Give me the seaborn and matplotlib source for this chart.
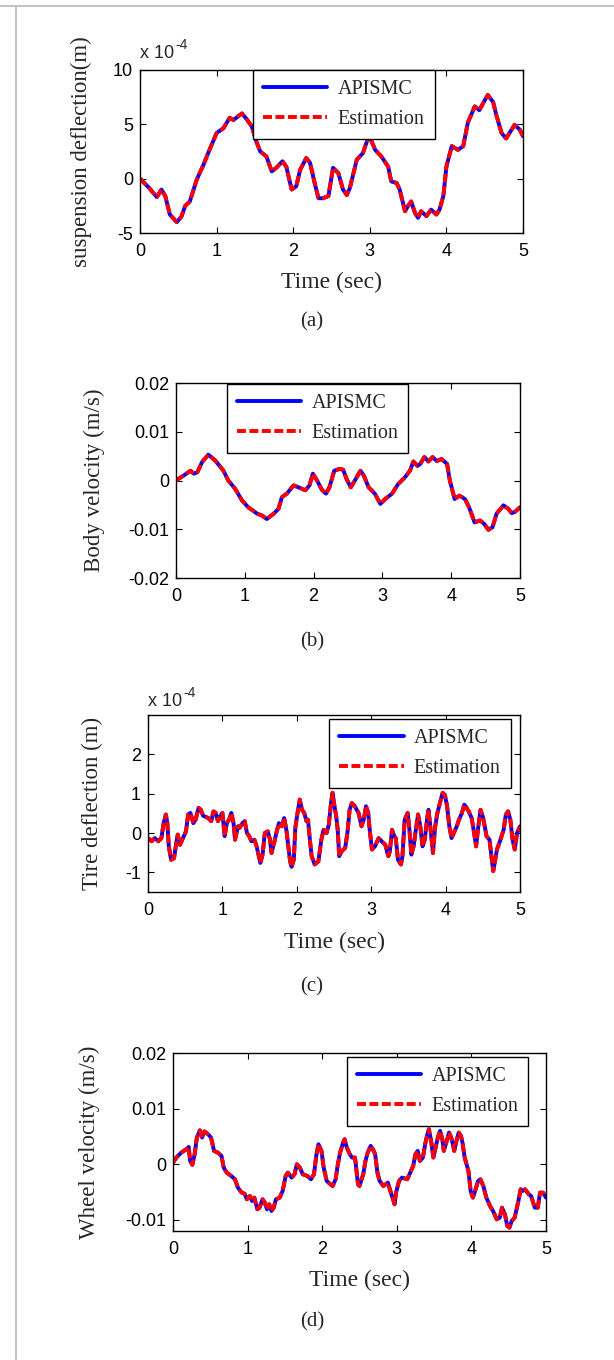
import numpy as np
import matplotlib
matplotlib.use("Agg")
import matplotlib.pyplot as plt
from matplotlib.lines import Line2D
import seaborn as sns

# ---------------- data ----------------
# (a) suspension deflection, in units of 1e-4 m
t_a = [0, 0.12, 0.22, 0.28, 0.33, 0.39, 0.48, 0.54, 0.59, 0.65, 0.74, 0.83, 0.91, 1.0,
       1.09, 1.17, 1.22, 1.33, 1.39, 1.46, 1.52, 1.57, 1.65, 1.72, 1.78, 1.86, 1.91, 1.98,
       2.04, 2.09, 2.17, 2.22, 2.28, 2.33, 2.39, 2.46, 2.52, 2.59, 2.65, 2.70, 2.74, 2.83,
       2.91, 2.99, 3.07, 3.15, 3.24, 3.28, 3.35, 3.39, 3.46, 3.50, 3.54, 3.59, 3.63, 3.67,
       3.74, 3.80, 3.87, 3.91, 3.96, 4.0, 4.07, 4.15, 4.22, 4.28, 4.37, 4.43, 4.48, 4.54,
       4.61, 4.65, 4.72, 4.78, 4.85, 4.89, 4.96, 5.0]
susp_a = [0, -0.86, -1.7, -1.0, -1.6, -3.3, -4.0, -3.5, -2.5, -2.1, -0.1, 1.3, 2.7, 4.2,
          4.65, 5.6, 5.4, 6.0, 5.5, 4.8, 3.4, 2.5, 2.05, 0.67, 1.0, 1.6, 1.1, -1.0,
          -0.7, 0.8, 1.9, 1.45, -0.4, -1.8, -1.8, -1.6, 1.0, 0.5, -1.0, -1.5, -0.85, 1.75,
          2.35, 4.0, 2.65, 2.05, 1.1, -0.25, -0.4, -1.0, -3.0, -2.5, -2.1, -3.15, -3.6, -3.0,
          -3.45, -2.85, -3.3, -2.85, -1.6, 1.1, 3.0, 2.65, 3.0, 5.15, 6.65, 6.3, 6.95, 7.7,
          7.05, 5.9, 4.2, 3.7, 4.5, 4.95, 4.5, 3.9]

# (b) body velocity, m/s
t_b = [0, 0.11, 0.21, 0.26, 0.31, 0.38, 0.47, 0.57, 0.69, 0.76, 0.86, 0.96, 1.05, 1.18,
       1.25, 1.32, 1.42, 1.49, 1.54, 1.61, 1.71, 1.78, 1.88, 1.94, 1.99, 2.05, 2.12, 2.18,
       2.23, 2.30, 2.38, 2.43, 2.48, 2.54, 2.60, 2.68, 2.73, 2.80, 2.89, 2.97, 3.04, 3.14,
       3.23, 3.33, 3.40, 3.45, 3.51, 3.55, 3.61, 3.67, 3.73, 3.79, 3.86, 3.94, 3.98, 4.05,
       4.12, 4.20, 4.26, 4.34, 4.42, 4.48, 4.54, 4.60, 4.66, 4.76, 4.83, 4.88, 4.93, 5.0]
vel_b = [0.0, 0.001, 0.002, 0.0014, 0.0017, 0.0038, 0.0053, 0.0041, 0.002, 0.0, -0.0017,
         -0.0041, -0.0055, -0.0068, -0.0072, -0.0079, -0.0068, -0.0058, -0.0034, -0.0027,
         -0.001, -0.0014, -0.002, -0.001, 0.0014, 0.0, -0.0019, -0.0027, -0.0014, 0.002,
         0.0024, 0.0022, 0.0003, -0.0014, 0.0, 0.002, 0.001, -0.0014, -0.0027, -0.0048,
         -0.0038, -0.0027, -0.0007, 0.0007, 0.002, 0.0039, 0.003, 0.0034, 0.0048, 0.0039,
         0.0048, 0.004, 0.0044, 0.0034, 0.0, -0.0038, -0.0031, -0.0038, -0.0055, -0.0086,
         -0.0082, -0.0089, -0.0101, -0.0096, -0.0068, -0.0051, -0.0058, -0.0067, -0.0064,
         -0.0055]

# (c) tire deflection, in units of 1e-4 m
t_c = [0, 0.05, 0.09, 0.14, 0.18, 0.21, 0.24, 0.26, 0.28, 0.31, 0.35, 0.38, 0.40, 0.43,
       0.47, 0.51, 0.54, 0.57, 0.61, 0.64, 0.68, 0.71, 0.74, 0.81, 0.85, 0.88, 0.91, 0.94,
       0.97, 1.0, 1.03, 1.06, 1.09, 1.12, 1.15, 1.17, 1.21, 1.23, 1.27, 1.30, 1.33, 1.36,
       1.39, 1.43, 1.46, 1.51, 1.54, 1.57, 1.61, 1.64, 1.66, 1.70, 1.73, 1.76, 1.80, 1.83,
       1.86, 1.91, 1.93, 1.96, 1.98, 2.01, 2.04, 2.07, 2.10, 2.13, 2.15, 2.18, 2.20, 2.24,
       2.29, 2.33, 2.36, 2.40, 2.43, 2.46, 2.48, 2.50, 2.53, 2.55, 2.57, 2.60, 2.65, 2.68,
       2.71, 2.74, 2.78, 2.83, 2.87, 2.90, 2.93, 2.96, 2.98, 3.01, 3.05, 3.10, 3.14, 3.19,
       3.23, 3.25, 3.28, 3.31, 3.33, 3.36, 3.40, 3.42, 3.45, 3.49, 3.51, 3.54, 3.57, 3.60,
       3.63, 3.66, 3.69, 3.72, 3.75, 3.77, 3.79, 3.83, 3.86, 3.89, 3.93, 3.96, 3.99, 4.02,
       4.05, 4.08, 4.11, 4.15, 4.18, 4.22, 4.25, 4.27, 4.31, 4.35, 4.38, 4.41, 4.44, 4.47,
       4.50, 4.53, 4.55, 4.59, 4.62, 4.64, 4.66, 4.69, 4.73, 4.78, 4.81, 4.84, 4.87, 4.90,
       4.93, 4.96, 5.0]
tire_c = [-0.13, -0.21, -0.13, -0.21, -0.13, 0.25, 0.47, 0.25, -0.34, -0.68, -0.64, -0.25,
          -0.04, -0.30, -0.13, 0.04, 0.47, 0.51, 0.25, 0.34, 0.64, 0.59, 0.44, 0.38, 0.30,
          0.55, 0.51, 0.30, 0.42, 0.51, -0.08, 0.25, 0.34, 0.51, 0.25, -0.17, 0.17, 0.13,
          0.25, 0.30, 0.0, -0.08, -0.21, -0.17, -0.34, -0.76, -0.55, 0.0, 0.04, -0.17, -0.51,
          -0.21, 0.04, 0.25, 0.17, 0.38, 0.08, -0.72, -0.86, -0.68, 0.13, 0.51, 0.85, 0.59,
          0.51, 0.30, 0.34, -0.25, -0.59, -0.80, -0.72, -0.17, 0.08, 0.0, 0.21, 0.76, 1.02,
          0.76, 0.42, 0.08, -0.59, -0.47, -0.38, 0.0, 0.59, 0.76, 0.68, 0.51, 0.17, 0.34,
          0.68, 0.51, 0.08, -0.42, -0.34, -0.13, -0.21, -0.30, -0.59, -0.47, 0.08, -0.08,
          -0.13, -0.68, -0.80, -0.59, 0.34, 0.51, 0.17, -0.55, -0.34, 0.08, 0.47, 0.17, -0.34,
          -0.17, 0.34, 0.59, 0.25, -0.51, 0.17, 0.51, 0.81, 1.02, 0.97, 0.68, 0.17, -0.13,
          0.0, 0.17, 0.34, 0.51, 0.72, 0.68, 0.55, 0.38, 0.04, -0.34, 0.17, 0.59, 0.42, 0.13,
          -0.08, -0.17, -0.64, -0.97, -0.76, -0.42, -0.21, 0.08, 0.47, 0.55, 0.34, -0.17,
          -0.42, 0.0, 0.17]

# (d) wheel velocity, m/s
t_d = [0.0, 0.045, 0.11, 0.18, 0.21, 0.23, 0.26, 0.29, 0.32, 0.36, 0.39, 0.42, 0.47, 0.51,
       0.55, 0.60, 0.65, 0.68, 0.72, 0.78, 0.83, 0.87, 0.92, 0.96, 0.99, 1.03, 1.06, 1.09,
       1.13, 1.16, 1.20, 1.23, 1.26, 1.29, 1.32, 1.35, 1.38, 1.43, 1.47, 1.51, 1.54, 1.59,
       1.63, 1.66, 1.70, 1.74, 1.80, 1.85, 1.89, 1.92, 1.95, 1.99, 2.02, 2.06, 2.11, 2.14,
       2.18, 2.21, 2.24, 2.28, 2.30, 2.33, 2.37, 2.40, 2.44, 2.46, 2.48, 2.50, 2.55, 2.58,
       2.61, 2.65, 2.68, 2.71, 2.74, 2.77, 2.82, 2.88, 2.92, 2.95, 2.97, 2.99, 3.03, 3.07,
       3.14, 3.19, 3.22, 3.25, 3.28, 3.31, 3.35, 3.38, 3.41, 3.43, 3.46, 3.49, 3.51, 3.55,
       3.58, 3.61, 3.63, 3.67, 3.70, 3.73, 3.77, 3.80, 3.83, 3.86, 3.88, 3.91, 3.96, 3.99,
       4.02, 4.05, 4.09, 4.12, 4.16, 4.20, 4.25, 4.29, 4.34, 4.38, 4.41, 4.45, 4.48, 4.51,
       4.54, 4.58, 4.63, 4.66, 4.69, 4.72, 4.77, 4.80, 4.85, 4.89, 4.92, 4.96, 5.0]
wheel_d = [0.0003, 0.0012, 0.0021, 0.0027, 0.0031, 0.0006, -0.0001, 0.0018, 0.0048, 0.0061,
           0.0048, 0.0059, 0.0054, 0.0048, 0.0024, 0.0021, 0.0015, -0.0006, -0.0015,
           -0.0021, -0.0027, -0.0042, -0.0051, -0.0053, -0.0063, -0.0057, -0.0066, -0.006,
           -0.0081, -0.0078, -0.0063, -0.0069, -0.0081, -0.0072, -0.0084, -0.0078, -0.0063,
           -0.006, -0.0048, -0.0021, -0.0015, -0.0024, -0.0018, 0.0, -0.0006, -0.0018,
           -0.0021, -0.0027, -0.0018, 0.0015, 0.0036, 0.0024, -0.0006, -0.003, -0.0036,
           -0.0039, -0.0027, 0.0, 0.0021, 0.0039, 0.0045, 0.003, 0.0018, 0.0012, 0.0012,
           -0.0012, -0.0036, -0.0039, -0.0018, 0.0006, 0.0021, 0.0033, 0.0027, 0.0018,
           -0.0015, -0.003, -0.0039, -0.0033, -0.0051, -0.0063, -0.0072, -0.0051, -0.003,
           -0.0024, -0.0027, -0.0012, -0.0003, 0.0018, 0.0024, 0.0006, 0.0012, 0.0036,
           0.0054, 0.0063, 0.0042, 0.0012, 0.0024, 0.0048, 0.006, 0.0045, 0.0024, 0.0042,
           0.0057, 0.0048, 0.0024, 0.0042, 0.0057, 0.0051, 0.0039, 0.0012, -0.0012, -0.0048,
           -0.006, -0.0048, -0.003, -0.0027, -0.0039, -0.006, -0.0075, -0.0084, -0.0099,
           -0.0096, -0.0078, -0.009, -0.0111, -0.0114, -0.0102, -0.0096, -0.0066, -0.0045,
           -0.0048, -0.0045, -0.0054, -0.0057, -0.0078, -0.0078, -0.0051, -0.0051, -0.006]

series_names = ["APISMC", "Estimation"]
sub_labels = ["(a)", "(b)", "(c)", "(d)"]

# ---------------- style ----------------
sns.set_style("ticks")
plt.rcParams["font.family"] = ["Liberation Sans", "DejaVu Sans"]
plt.rcParams["axes.unicode_minus"] = False
SERIF = ["Liberation Serif", "DejaVu Serif"]
BLUE, RED = "#0000ff", "#ff0000"
LW = 2.8
DASH = (0, (2.3, 0.9))

fig = plt.figure(figsize=(6.14, 13.6), dpi=100)
W, H = 614, 1360


def add_axes(l, r, t, b):
    return fig.add_axes([l / W, 1 - b / H, (r - l) / W, (b - t) / H])


panels = [
    dict(box=(140, 523, 70, 233), t=t_a, y=susp_a, ylim=(-5, 10), yticks=[-5, 0, 5, 10],
         ylab="suspension deflection(m)", ylx=-0.125, xlab=-0.24, leg=(0.295, 1.0),
         offset=(140, 58)),
    dict(box=(176, 520, 383, 578), t=t_b, y=vel_b, ylim=(-0.02, 0.02),
         yticks=[-0.02, -0.01, 0, 0.01, 0.02], ylab="Body velocity (m/s)", ylx=-0.205,
         xlab=None, leg=(0.148, 0.995), offset=None),
    dict(box=(148, 520, 715, 892), t=t_c, y=tire_c, ylim=(-1.5, 3), yticks=[-1, 0, 1, 2],
         ylab="Tire deflection (m)", ylx=-0.12, xlab=-0.225, leg=(0.487, 0.977),
         offset=(148, 706)),
    dict(box=(173, 546, 1053, 1231), t=t_d, y=wheel_d, ylim=(-0.012, 0.02),
         yticks=[-0.01, 0, 0.01, 0.02], ylab="Wheel velocity (m/s)", ylx=-0.195,
         xlab=-0.22, leg=(0.466, 0.978), offset=None),
]
label_y = [322, 642, 987, 1322]

for i, p in enumerate(panels):
    ax = add_axes(*p["box"])
    sns.lineplot(x=p["t"], y=p["y"], ax=ax, color=BLUE, lw=LW, label=series_names[0])
    sns.lineplot(x=p["t"], y=p["y"], ax=ax, color=RED, lw=LW, linestyle=DASH,
                 label=series_names[1])
    ax.set_xlim(0, 5)
    ax.set_ylim(*p["ylim"])
    ax.set_xticks([0, 1, 2, 3, 4, 5])
    ax.set_yticks(p["yticks"])
    ax.set_yticklabels([f"{v:g}" for v in p["yticks"]])
    ax.tick_params(direction="in", top=True, right=True, length=4, width=0.8,
                   labelsize=13, pad=5, colors="black")
    ax.tick_params(axis="x", pad=7)
    for s in ax.spines.values():
        s.set_linewidth(1.0)
        s.set_color("black")
    ax.set_ylabel(p["ylab"], family=SERIF, fontsize=16.5)
    ax.yaxis.set_label_coords(p["ylx"], 0.5)
    if p["xlab"] is not None:
        ax.set_xlabel("Time (sec)", family=SERIF, fontsize=17)
        ax.xaxis.set_label_coords(0.5, p["xlab"])
    else:
        ax.set_xlabel("")
    if p["offset"] is not None:
        ox, oy = p["offset"]
        fig.text(ox / W, 1 - oy / H, "x 10", fontsize=13, ha="left", va="baseline")
        fig.text((ox + 35) / W, 1 - (oy - 9) / H, "-4", fontsize=10, ha="left",
                 va="baseline")
    handles = [Line2D([], [], color=BLUE, lw=LW),
               Line2D([], [], color=RED, lw=LW, linestyle=DASH)]
    leg = ax.legend(handles, series_names, loc="upper left", bbox_to_anchor=p["leg"],
                    prop={"family": SERIF, "size": 14.5}, handlelength=3.2,
                    handletextpad=0.5, labelspacing=0.55, borderpad=0.5,
                    borderaxespad=0, frameon=True, fancybox=False, framealpha=1,
                    edgecolor="black")
    leg.get_frame().set_linewidth(1.0)
    fig.text(312 / W, 1 - label_y[i] / H, sub_labels[i], family=SERIF, fontsize=15,
             ha="center", va="center")

# light grey frame lines along the top and the left of the page
fig.add_artist(Line2D([0, 1], [1 - 5.5 / H, 1 - 5.5 / H], transform=fig.transFigure,
                      color="#c4c4c4", lw=1.5))
fig.add_artist(Line2D([15.5 / W, 15.5 / W], [0, 1 - 5.5 / H], transform=fig.transFigure,
                      color="#c4c4c4", lw=1.5))

fig.savefig("out.png", dpi=100)
